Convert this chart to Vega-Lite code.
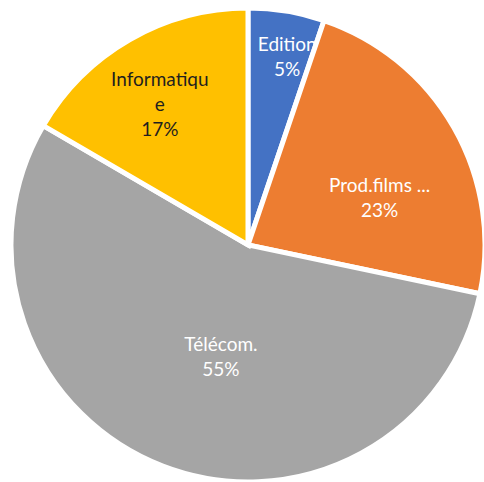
{
  "$schema": "https://vega.github.io/schema/vega-lite/v6.json",
  "width": 484,
  "height": 482,
  "autosize": {"type": "fit", "contains": "padding"},
  "padding": {"left": 12, "top": 8, "right": 0, "bottom": 0},
  "background": "white",
  "view": {"stroke": null},
  "data": {
    "values": [
      {"i": 1, "name": "Edition", "label": "Edition", "value": 5.2},
      {"i": 2, "name": "Prod.films", "label": "Prod.films ...", "value": 23.1},
      {"i": 3, "name": "Télécom.", "label": "Télécom.", "value": 55.1},
      {"i": 4, "name": "Informatique", "label": "Informatiqu\ne", "value": 16.6}
    ]
  },
  "transform": [
    {"calculate": "datum.label + '\\n' + format(datum.value / 100, '.0%')", "as": "txt"}
  ],
  "encoding": {
    "theta": {"field": "value", "type": "quantitative", "stack": true},
    "order": {"field": "i", "type": "quantitative"}
  },
  "layer": [
    {
      "mark": {"type": "arc", "outerRadius": 237, "stroke": "white", "strokeWidth": 5},
      "encoding": {
        "color": {
          "field": "name",
          "type": "nominal",
          "scale": {
            "domain": ["Edition", "Prod.films", "Télécom.", "Informatique"],
            "range": ["#4472C4", "#ED7D31", "#A5A5A5", "#FFC000"]
          },
          "legend": null
        }
      }
    },
    {
      "mark": {"type": "text", "radius": 192, "dx": 8, "dy": -11, "fill": "white", "font": "Lato", "fontSize": 19, "lineHeight": 25, "lineBreak": "\n", "align": "center", "baseline": "middle"},
      "encoding": {"text": {"condition": {"test": "datum.name === 'Edition'", "field": "txt"}, "value": ""}}
    },
    {
      "mark": {"type": "text", "radius": 140, "dx": 10, "dy": 10, "fill": "white", "font": "Lato", "fontSize": 19, "lineHeight": 25, "lineBreak": "\n", "align": "center", "baseline": "middle"},
      "encoding": {"text": {"condition": {"test": "datum.name === 'Prod.films'", "field": "txt"}, "value": ""}}
    },
    {
      "mark": {"type": "text", "radius": 117, "dx": 15, "dy": -9, "fill": "white", "font": "Lato", "fontSize": 19, "lineHeight": 25, "lineBreak": "\n", "align": "center", "baseline": "middle"},
      "encoding": {"text": {"condition": {"test": "datum.name === 'Télécom.'", "field": "txt"}, "value": ""}}
    },
    {
      "mark": {"type": "text", "radius": 165, "dx": -6, "dy": -22, "fill": "#1f1f1f", "font": "Lato", "fontSize": 19, "lineHeight": 25, "lineBreak": "\n", "align": "center", "baseline": "middle"},
      "encoding": {"text": {"condition": {"test": "datum.name === 'Informatique'", "field": "txt"}, "value": ""}}
    }
  ]
}
